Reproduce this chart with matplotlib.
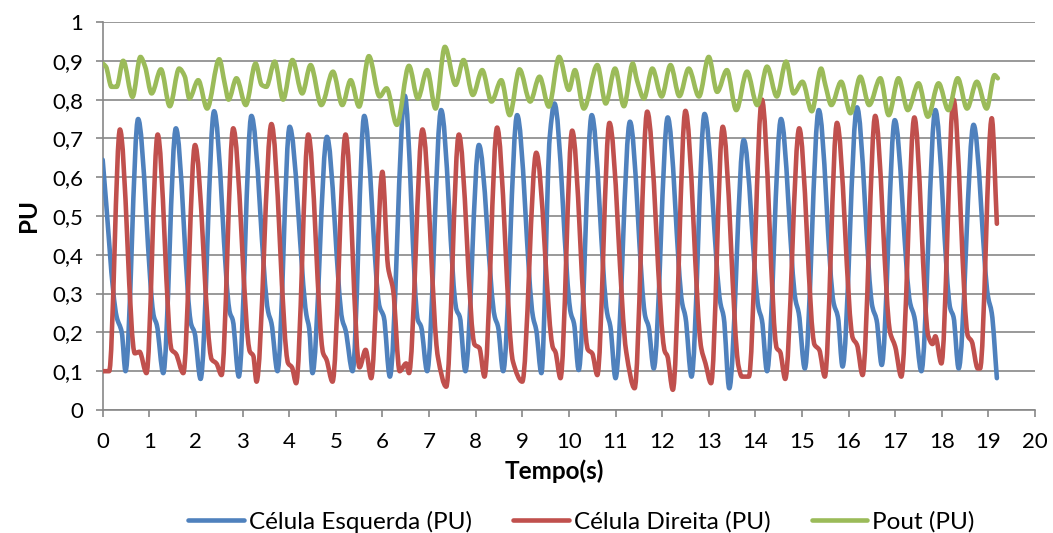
import numpy as np
import matplotlib
matplotlib.use("Agg")
import matplotlib.pyplot as plt
from matplotlib.path import Path
from matplotlib.patches import PathPatch
from matplotlib.lines import Line2D
from matplotlib.ticker import FuncFormatter, MultipleLocator

# ---- data: time (s) and per-unit values of each series ----
esq_t = [0.00, 0.30, 0.41, 0.49, 0.76, 1.10, 1.16, 1.30, 1.57, 1.90, 1.97, 2.10,
         2.39, 2.73, 2.79, 2.92, 3.19, 3.55, 3.62, 3.75, 4.01, 4.37, 4.43, 4.50,
         4.81, 5.14, 5.21, 5.36, 5.61, 5.94, 6.03, 6.16, 6.48, 6.76, 6.83, 6.96,
         7.26, 7.59, 7.66, 7.78, 8.07, 8.41, 8.48, 8.59, 8.89, 9.23, 9.30, 9.41,
         9.59, 9.69, 10.04, 10.11, 10.21, 10.49, 10.82, 10.89, 11.00, 11.31, 11.64,
         11.71, 11.82, 12.12, 12.43, 12.50, 12.63, 12.91, 13.25, 13.32, 13.44, 13.75,
         14.07, 14.14, 14.25, 14.55, 14.86, 14.93, 15.06, 15.36, 15.68, 15.77, 15.87,
         16.18, 16.51, 16.60, 16.71, 16.99, 17.32, 17.41, 17.56, 17.86, 18.18, 18.25,
         18.36, 18.68, 18.99, 19.07, 19.18]
esq_v = [0.645, 0.240, 0.200, 0.100, 0.750, 0.240, 0.220, 0.095, 0.726, 0.220, 0.200, 0.080,
         0.770, 0.250, 0.232, 0.086, 0.758, 0.253, 0.224, 0.100, 0.730, 0.245, 0.210, 0.095,
         0.704, 0.232, 0.206, 0.100, 0.758, 0.266, 0.240, 0.086, 0.810, 0.232, 0.215, 0.100,
         0.773, 0.258, 0.240, 0.100, 0.683, 0.240, 0.215, 0.100, 0.760, 0.240, 0.206, 0.095,
         0.704, 0.790, 0.250, 0.223, 0.103, 0.760, 0.250, 0.215, 0.082, 0.743, 0.240,
         0.215, 0.107, 0.754, 0.275, 0.240, 0.086, 0.763, 0.275, 0.240, 0.056, 0.696,
         0.262, 0.232, 0.100, 0.750, 0.284, 0.250, 0.107, 0.773, 0.275, 0.240, 0.112,
         0.780, 0.266, 0.232, 0.116, 0.747, 0.275, 0.240, 0.100, 0.773, 0.262, 0.240,
         0.107, 0.735, 0.292, 0.250, 0.082]

dir_t = [0.00, 0.14, 0.37, 0.69, 0.79, 0.94, 1.18, 1.48, 1.57, 1.73, 1.98, 2.34,
         2.44, 2.55, 2.80, 3.16, 3.23, 3.30, 3.62, 3.98, 4.06, 4.15, 4.41, 4.73,
         4.80, 4.93, 5.21, 5.51, 5.64, 5.76, 6.00, 6.12, 6.23, 6.37, 6.51, 6.57,
         6.86, 7.19, 7.37, 7.64, 7.98, 8.08, 8.19, 8.46, 8.80, 9.00, 9.30, 9.66,
         9.71, 9.82, 10.07, 10.41, 10.50, 10.61, 10.87, 11.23, 11.41, 11.68, 12.06,
         12.11, 12.23, 12.50, 12.84, 12.93, 13.05, 13.30, 13.64, 13.71, 13.86, 14.14,
         14.46, 14.53, 14.64, 14.94, 15.27, 15.37, 15.49, 15.75, 16.09, 16.18, 16.30,
         16.57, 16.89, 17.00, 17.13, 17.41, 17.71, 17.80, 17.86, 17.99, 18.25, 18.56,
         18.64, 18.77, 18.82, 19.07, 19.18]
dir_v = [0.100, 0.100, 0.723, 0.146, 0.150, 0.095, 0.710, 0.155, 0.145, 0.095, 0.683, 0.130,
         0.120, 0.090, 0.726, 0.150, 0.140, 0.073, 0.737, 0.120, 0.110, 0.069, 0.710, 0.146,
         0.130, 0.073, 0.710, 0.110, 0.155, 0.082, 0.614, 0.370, 0.310, 0.100, 0.120, 0.095,
         0.723, 0.137, 0.060, 0.710, 0.168, 0.160, 0.086, 0.728, 0.125, 0.073, 0.663, 0.160,
         0.150, 0.082, 0.720, 0.155, 0.146, 0.090, 0.740, 0.150, 0.056, 0.769, 0.150,
         0.140, 0.052, 0.771, 0.159, 0.120, 0.069, 0.730, 0.112, 0.086, 0.086, 0.800,
         0.159, 0.150, 0.080, 0.726, 0.168, 0.155, 0.086, 0.740, 0.185, 0.168, 0.090,
         0.758, 0.200, 0.163, 0.086, 0.754, 0.190, 0.170, 0.190, 0.120, 0.800, 0.190,
         0.177, 0.107, 0.107, 0.752, 0.480]

pout_t = [0.00, 0.07, 0.19, 0.30, 0.44, 0.64, 0.81, 0.91, 1.05, 1.25, 1.44, 1.64,
          1.76, 1.86, 2.05, 2.24, 2.50, 2.62, 2.70, 2.87, 3.07, 3.28, 3.41, 3.51,
          3.69, 3.87, 4.07, 4.28, 4.46, 4.69, 4.94, 5.14, 5.32, 5.50, 5.71, 5.94,
          6.09, 6.31, 6.57, 6.76, 6.96, 7.14, 7.34, 7.57, 7.74, 7.94, 8.14, 8.34,
          8.55, 8.73, 8.94, 9.17, 9.37, 9.57, 9.79, 10.00, 10.13, 10.32, 10.61, 10.79,
          10.99, 11.18, 11.37, 11.46, 11.61, 11.79, 11.99, 12.18, 12.37, 12.57, 12.79,
          13.00, 13.18, 13.39, 13.59, 13.82, 14.04, 14.25, 14.46, 14.66, 14.82, 15.01,
          15.21, 15.41, 15.50, 15.63, 15.84, 16.04, 16.25, 16.44, 16.68, 16.86, 17.07,
          17.27, 17.50, 17.70, 17.93, 18.14, 18.34, 18.54, 18.75, 18.96, 19.13, 19.20]
pout_v = [0.893, 0.885, 0.833, 0.833, 0.900, 0.807, 0.910, 0.885, 0.816, 0.878, 0.783, 0.880,
          0.860, 0.803, 0.850, 0.777, 0.904, 0.840, 0.800, 0.855, 0.786, 0.893, 0.838, 0.833,
          0.898, 0.800, 0.902, 0.816, 0.889, 0.786, 0.872, 0.786, 0.850, 0.782, 0.912, 0.808,
          0.829, 0.735, 0.887, 0.803, 0.876, 0.777, 0.936, 0.838, 0.902, 0.812, 0.876, 0.795,
          0.850, 0.760, 0.878, 0.795, 0.859, 0.782, 0.910, 0.825, 0.876, 0.777, 0.889, 0.790,
          0.880, 0.783, 0.893, 0.850, 0.803, 0.880, 0.808, 0.889, 0.809, 0.880, 0.808,
          0.910, 0.820, 0.876, 0.773, 0.872, 0.786, 0.885, 0.808, 0.898, 0.816, 0.846,
          0.770, 0.880, 0.838, 0.786, 0.846, 0.765, 0.859, 0.786, 0.855, 0.760, 0.855,
          0.773, 0.842, 0.756, 0.842, 0.773, 0.855, 0.777, 0.846, 0.777, 0.863, 0.855]

series_labels = ["Célula Esquerda (PU)", "Célula Direita (PU)", "Pout (PU)"]
series_colors = ["#4F81BD", "#C0504D", "#9BBB59"]

FONT = ["Lato", "DejaVu Sans"]
plt.rcParams["font.family"] = FONT

GRID = "#878787"
LW = 3.3
TICK_FS = 16
LEG_FS = 17.5
LAB_FS = 17.5


def smooth_path(t, v):
    """Monotone cubic curve through the samples, expressed as Bezier segments."""
    t = np.asarray(t, float)
    v = np.asarray(v, float)
    h = np.diff(t)
    d = np.diff(v) / h
    m = np.zeros_like(v)
    m[0], m[-1] = d[0], d[-1]
    for i in range(1, len(v) - 1):
        if d[i - 1] * d[i] > 0:
            w1 = 2 * h[i] + h[i - 1]
            w2 = h[i] + 2 * h[i - 1]
            m[i] = (w1 + w2) / (w1 / d[i - 1] + w2 / d[i])
    verts = [(t[0], v[0])]
    codes = [Path.MOVETO]
    for i in range(len(h)):
        verts += [(t[i] + h[i] / 3, v[i] + m[i] * h[i] / 3),
                  (t[i + 1] - h[i] / 3, v[i + 1] - m[i + 1] * h[i] / 3),
                  (t[i + 1], v[i + 1])]
        codes += [Path.CURVE4] * 3
    return Path(verts, codes)


fig = plt.figure(figsize=(10.53, 5.33), dpi=100)
ax = fig.add_axes([0.0975, 0.2308, 0.8855, 0.7279])

for (t, v), c, z in zip([(esq_t, esq_v), (dir_t, dir_v), (pout_t, pout_v)],
                        series_colors, [3, 4, 5]):
    ax.add_patch(PathPatch(smooth_path(t, v), facecolor="none", edgecolor=c,
                           lw=LW, capstyle="round", joinstyle="round", zorder=z))

ax.set_xlim(0, 20)
ax.set_ylim(0, 1)
ax.xaxis.set_major_locator(MultipleLocator(1))
ax.yaxis.set_major_locator(MultipleLocator(0.1))


def comma_fmt(val, pos):
    s = f"{val:.1f}".rstrip("0").rstrip(".")
    return s.replace(".", ",")


ax.yaxis.set_major_formatter(FuncFormatter(comma_fmt))
ax.grid(axis="y", color=GRID, lw=1.2, zorder=1)
ax.set_axisbelow(True)
for s in ["top", "right"]:
    ax.spines[s].set_visible(False)
for s in ["left", "bottom"]:
    ax.spines[s].set_color(GRID)
    ax.spines[s].set_linewidth(1.2)
ax.tick_params(axis="both", direction="out", length=5, width=1.2, color=GRID,
               labelcolor="black", labelsize=TICK_FS)
ax.tick_params(axis="x", pad=11)
ax.tick_params(axis="y", pad=9)

ax.set_xlabel("Tempo(s)", fontweight="bold", fontsize=LAB_FS, labelpad=5)
ax.xaxis.label.set_x(0.484)
ax.set_ylabel("PU", fontweight="bold", fontsize=LAB_FS, labelpad=9)

handles = [Line2D([], [], color=c, lw=LW, solid_capstyle="round") for c in series_colors]
fig.legend(handles, series_labels, loc="center", bbox_to_anchor=(0.552, 0.021),
           ncol=3, frameon=False, fontsize=LEG_FS, handlelength=2.3,
           handletextpad=0.2, columnspacing=1.7, borderaxespad=0)

fig.savefig("out.png", dpi=100)
